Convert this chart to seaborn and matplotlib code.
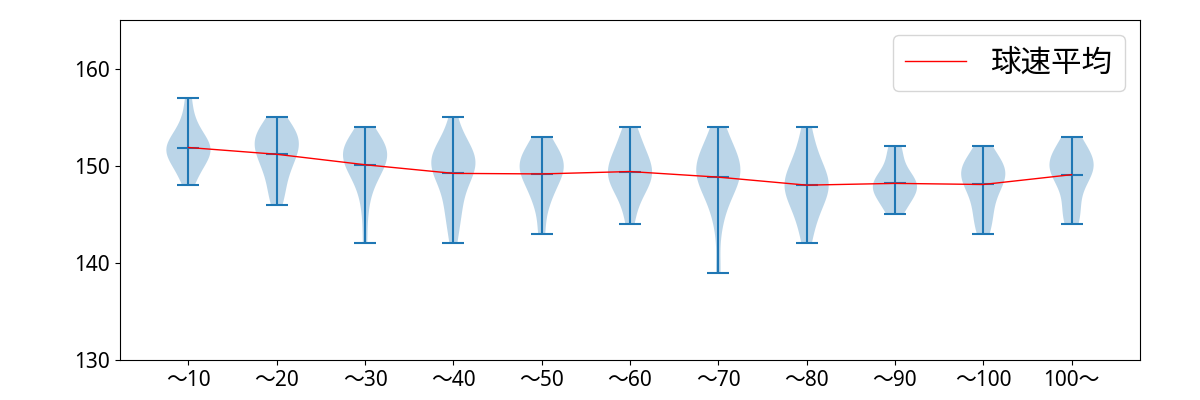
import numpy as np
import pandas as pd
import matplotlib
matplotlib.use("Agg")
import matplotlib.pyplot as plt
import seaborn as sns

# pitch speeds (km/h) per pitch-count bin
labels = ["〜10", "〜20", "〜30", "〜40", "〜50", "〜60", "〜70", "〜80", "〜90", "〜100", "100〜"]
s10 = [148, 149, 150, 150, 151, 151, 151, 152, 152, 152, 152, 153, 153, 154, 155, 157]
s20 = [146, 147, 148, 149, 150, 150, 151, 151, 152, 152, 152, 153, 153, 153, 154, 154, 155]
s30 = [142, 145, 147, 148, 149, 149, 150, 150, 150, 151, 151, 151, 151, 152, 152, 152, 152, 153, 153, 154]
s40 = [142, 144, 145, 146, 147, 148, 149, 149, 150, 150, 150, 150, 151, 151, 151, 152, 152, 153, 155]
s50 = [143, 146, 147, 148, 149, 149, 150, 150, 150, 151, 151, 152, 153]
s60 = [144, 146, 147, 148, 148, 149, 149, 149, 150, 150, 151, 151, 152, 153, 154]
s70 = [139, 144, 146, 147, 148, 148, 149, 149, 149, 150, 150, 150, 151, 151, 152, 153, 154]
s80 = [142, 144, 145, 146, 147, 147, 148, 148, 148, 149, 149, 150, 151, 152, 154]
s90 = [145, 146, 147, 147, 148, 148, 148, 149, 149, 151, 152]
s100 = [143, 144, 145, 146, 147, 148, 148, 149, 149, 149, 150, 150, 150, 151, 152]
s100p = [144, 145, 146, 148, 149, 149, 150, 150, 150, 151, 151, 152, 153]

samples = [s10, s20, s30, s40, s50, s60, s70, s80, s90, s100, s100p]
positions = np.arange(1, len(labels) + 1)
means = pd.DataFrame({"pos": positions, "mean": [np.mean(s) for s in samples]})

plt.rcParams["font.family"] = ["Noto Sans CJK JP", "DejaVu Sans"]
tick_font = ["Noto Sans", "Noto Sans CJK JP"]

fig, ax = plt.subplots(figsize=(12, 4), dpi=100)
fig.subplots_adjust(left=0.1, right=0.95, top=0.95, bottom=0.1)

ax.violinplot(samples, positions=positions, showmeans=True)
sns.lineplot(data=means, x="pos", y="mean", color="red", lw=1, label="球速平均", ax=ax)

ax.set_ylim(130, 165)
ax.set_yticks([130, 140, 150, 160])
ax.set_xticks(positions)
ax.set_xticklabels(labels)
ax.set_xlabel("")
ax.set_ylabel("")
for t in ax.get_xticklabels() + ax.get_yticklabels():
    t.set_fontfamily(tick_font)
    t.set_fontsize(15)
ax.legend(loc="upper right", fontsize=22)

fig.savefig("out.png")
